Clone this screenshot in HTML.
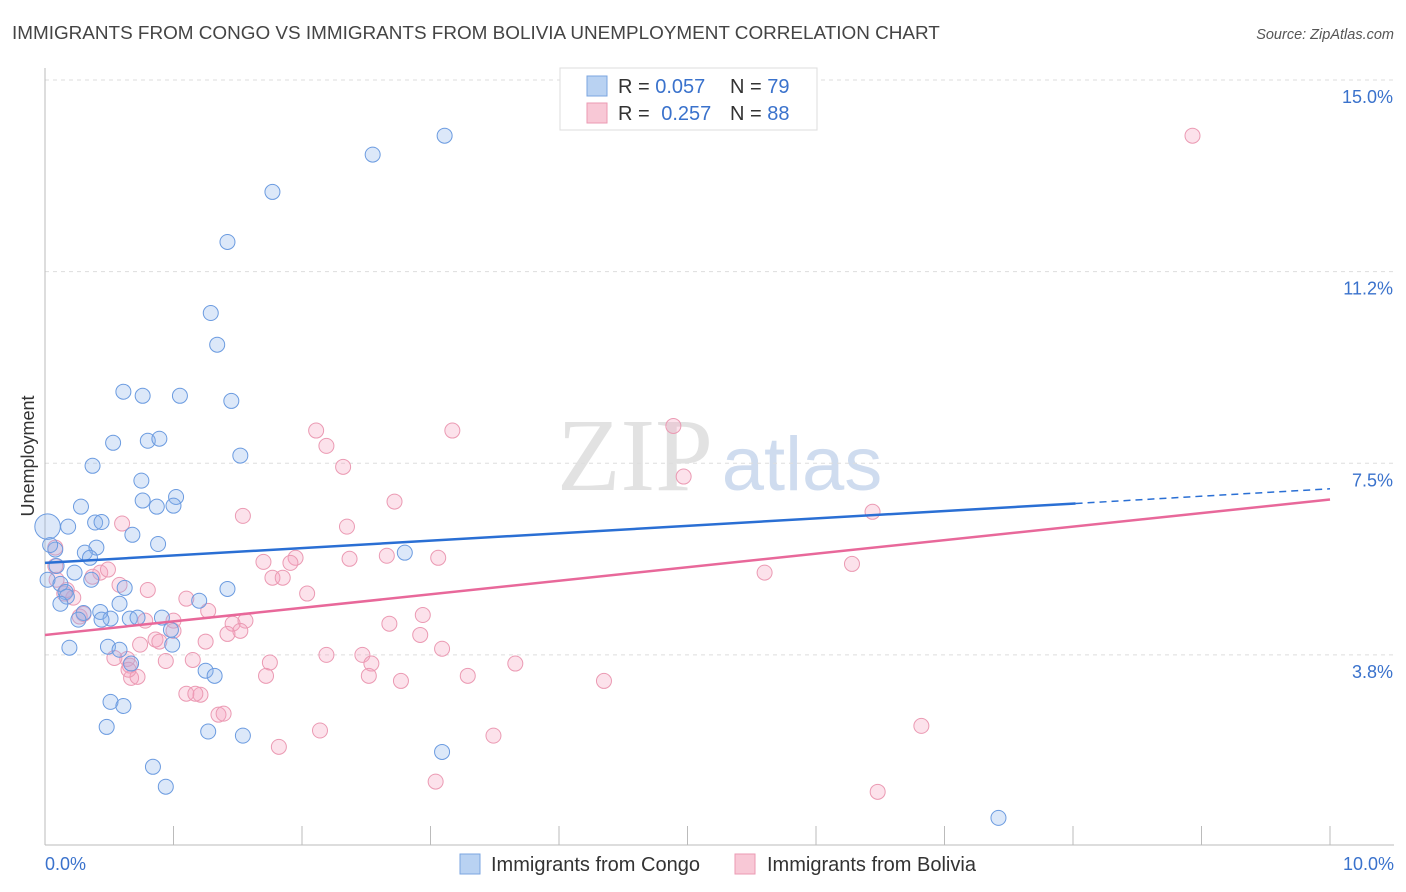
<!DOCTYPE html>
<html><head><meta charset="utf-8">
<style>
body{margin:0;background:#fff;font-family:"Liberation Sans",sans-serif;}
#wrap{position:relative;width:1406px;height:892px;overflow:hidden;}
svg text{font-family:"Liberation Sans",sans-serif;}
</style></head>
<body>
<div id="wrap">
<svg id="chart" width="1406" height="892" xmlns="http://www.w3.org/2000/svg">
<text x="12" y="39" font-size="18.9" fill="#444">IMMIGRANTS FROM CONGO VS IMMIGRANTS FROM BOLIVIA UNEMPLOYMENT CORRELATION CHART</text>
<text x="1394" y="39" font-size="14.5" fill="#555" font-style="italic" text-anchor="end">Source: ZipAtlas.com</text>
<text x="34" y="456" font-size="18" fill="#333" text-anchor="middle" transform="rotate(-90 34 456)">Unemployment</text>
<g>
<text x="635" y="490" font-size="104" fill="#e2e2e2" text-anchor="middle" style="font-family:'Liberation Serif',serif">ZIP</text>
<text x="802" y="490" font-size="76" fill="#cfdcef" text-anchor="middle">atlas</text>
</g>
<g id="grid"></g><g id="axes"></g><g id="marks"></g>
<g>
<rect x="560" y="68" width="257" height="62" fill="#fff" stroke="#ddd"/>
<rect x="587" y="76" width="20" height="20" fill="#b9d2f2" stroke="#7ba6e0"/>
<rect x="587" y="103" width="20" height="20" fill="#f8c8d6" stroke="#eb9ab3"/>
<text x="618" y="93" font-size="20" fill="#333">R = <tspan fill="#3a72cc">0.057</tspan><tspan x="730">N = </tspan><tspan fill="#3a72cc">79</tspan></text>
<text x="618" y="120" font-size="20" fill="#333">R = <tspan fill="#3a72cc" dx="6">0.257</tspan><tspan x="730">N = </tspan><tspan fill="#3a72cc">88</tspan></text>
</g>
<g>
<rect x="460" y="854" width="20" height="20" fill="#b9d2f2" stroke="#7ba6e0"/>
<text x="491" y="871" font-size="20" fill="#333">Immigrants from Congo</text>
<rect x="735" y="854" width="20" height="20" fill="#f8c8d6" stroke="#eb9ab3"/>
<text x="767" y="871" font-size="20" fill="#333">Immigrants from Bolivia</text>
</g>
</svg>
</div>
<script>
const yTicks=[15.0,11.25,7.5,3.75];
const yTickLabels=["15.0%","11.2%","7.5%","3.8%"];
const xTickCount=10;
const xLabels=["0.0%","10.0%"];
const congoX=[3.11,2.55,1.77,1.42,1.29,1.34,0.61,0.76,1.05,1.45,0.53,0.80,0.89,1.52,0.37,0.75,0.28,0.76,0.87,1.02,1.00,0.18,0.39,0.44,0.68,0.88,0.40,0.31,0.35,0.08,2.80,0.23,0.36,0.02,0.12,0.16,0.62,1.42,0.17,0.12,0.58,1.20,0.30,0.43,0.26,0.51,0.66,0.72,0.91,0.44,0.98,0.19,0.49,0.58,0.99,0.67,1.25,1.32,0.51,0.61,0.48,1.27,1.54,3.09,0.84,0.94,7.42,0.09,0.04,0.02];
const congoY=[13.91,13.54,12.81,11.83,10.44,9.82,8.90,8.82,8.82,8.72,7.90,7.94,7.98,7.65,7.45,7.16,6.65,6.77,6.65,6.84,6.67,6.26,6.34,6.35,6.10,5.92,5.85,5.75,5.65,5.81,5.75,5.36,5.22,5.22,5.14,4.98,5.06,5.04,4.89,4.75,4.75,4.81,4.57,4.59,4.44,4.46,4.46,4.48,4.48,4.44,4.24,3.89,3.91,3.85,3.95,3.58,3.44,3.34,2.83,2.75,2.34,2.25,2.17,1.85,1.56,1.17,0.56,5.49,5.90,6.26];
const congoSize=[1,1,1,1,1,1,1,1,1,1,1,1,1,1,1,1,1,1,1,1,1,1,1,1,1,1,1,1,1,1,1,1,1,1,1,1,1,1,1,1,1,1,1,1,1,1,1,1,1,1,1,1,1,1,1,1,1,1,1,1,1,1,1,1,1,1,1,1,1,1.7];
const boliviaX=[8.93,4.89,2.11,3.17,2.19,2.32,4.97,2.72,1.54,6.44,2.35,0.60,0.08,1.70,1.95,1.91,2.37,2.66,3.06,6.28,5.60,0.08,0.43,0.49,0.09,1.77,1.85,0.37,0.58,0.80,2.04,0.15,0.22,1.10,1.27,2.94,0.27,0.78,1.00,1.46,1.56,1.52,2.68,2.92,1.42,1.25,1.00,0.86,0.89,0.74,3.09,2.19,2.47,2.54,3.66,1.75,1.15,0.94,0.64,0.54,0.66,1.72,2.52,2.77,3.29,4.35,0.67,0.72,1.10,1.21,1.17,1.35,1.39,6.82,2.14,3.49,1.82,3.04,6.48,0.30,0.17,0.65];
const boliviaY=[13.91,8.23,8.14,8.14,7.84,7.43,7.24,6.75,6.47,6.55,6.26,6.32,5.85,5.57,5.65,5.55,5.63,5.69,5.65,5.53,5.36,5.49,5.36,5.42,5.22,5.26,5.26,5.28,5.12,5.02,4.95,4.95,4.87,4.85,4.61,4.53,4.50,4.42,4.42,4.36,4.42,4.22,4.36,4.14,4.16,4.01,4.22,4.05,4.01,3.95,3.87,3.75,3.75,3.58,3.58,3.60,3.65,3.63,3.67,3.69,3.54,3.34,3.34,3.24,3.34,3.24,3.30,3.32,2.99,2.97,2.99,2.58,2.60,2.36,2.27,2.17,1.95,1.27,1.07,4.55,5.02,3.46];
const congoTrend=[5.55,7.00];
const boliviaTrend=[4.14,6.79];
const congoSolidEnd=8.02;

const NS="http://www.w3.org/2000/svg";
const X0=45,X1=1330;
function xs(v){return X0+(v/10)*(X1-X0);}
function ys(v){return 80+(15-v)*51.1;}
function mk(tag,attrs,parent){const e=document.createElementNS(NS,tag);for(const k in attrs)e.setAttribute(k,attrs[k]);parent.appendChild(e);return e;}
const grid=document.getElementById('grid'),axes=document.getElementById('axes'),marks=document.getElementById('marks');
yTicks.forEach((t,i)=>{
  const l=mk('line',{x1:45,x2:1394,y1:ys(t),y2:ys(t),stroke:'#ddd','stroke-dasharray':'4,4'},grid);
  
  
  const tx=mk('text',{x:1393,y:ys(t)+23,'font-size':18,fill:'#3a72cc','text-anchor':'end'},axes);
  tx.textContent=yTickLabels[i];
  
  
});
const ax=mk('line',{x1:45,x2:45,y1:68,y2:845,stroke:'#bbb'},axes);


const bx=mk('line',{x1:45,x2:1394,y1:845,y2:845,stroke:'#bbb'},axes);


for(let i=0;i<=xTickCount;i++){
  const t=mk('line',{x1:xs(i),x2:xs(i),y1:826,y2:845,stroke:'#bbb'},axes);
  
  
}
const xl0=mk('text',{x:45,y:870,'font-size':18,fill:'#3a72cc'},axes);xl0.textContent=xLabels[0];


const xl1=mk('text',{x:1394,y:870,'font-size':18,fill:'#3a72cc','text-anchor':'end'},axes);xl1.textContent=xLabels[1];



boliviaX.forEach((x,i)=>{
  const c=mk('circle',{cx:xs(x),cy:ys(boliviaY[i]),r:7.5,fill:'rgba(244,160,188,0.3)',stroke:'#eb9ab3','stroke-width':1},marks);
  
  
});
congoX.forEach((x,i)=>{
  const c=mk('circle',{cx:xs(x),cy:ys(congoY[i]),r:7.5*congoSize[i],fill:'rgba(140,180,235,0.3)',stroke:'#6b9be0','stroke-width':1},marks);
  
  
});
function lerp(a,b,t){return a+(b-a)*t;}
const ySolid=lerp(congoTrend[0],congoTrend[1],congoSolidEnd/10);
const l1=mk('line',{x1:xs(0),y1:ys(congoTrend[0]),x2:xs(congoSolidEnd),y2:ys(ySolid),stroke:'#2a6fd4','stroke-width':2.5},marks);


const l2=mk('line',{x1:xs(congoSolidEnd),y1:ys(ySolid),x2:xs(10),y2:ys(congoTrend[1]),stroke:'#2a6fd4','stroke-width':1.5,'stroke-dasharray':'7,5'},marks);


const l3=mk('line',{x1:xs(0),y1:ys(boliviaTrend[0]),x2:xs(10),y2:ys(boliviaTrend[1]),stroke:'#e8689a','stroke-width':2.5},marks);


</script>
</body></html>
